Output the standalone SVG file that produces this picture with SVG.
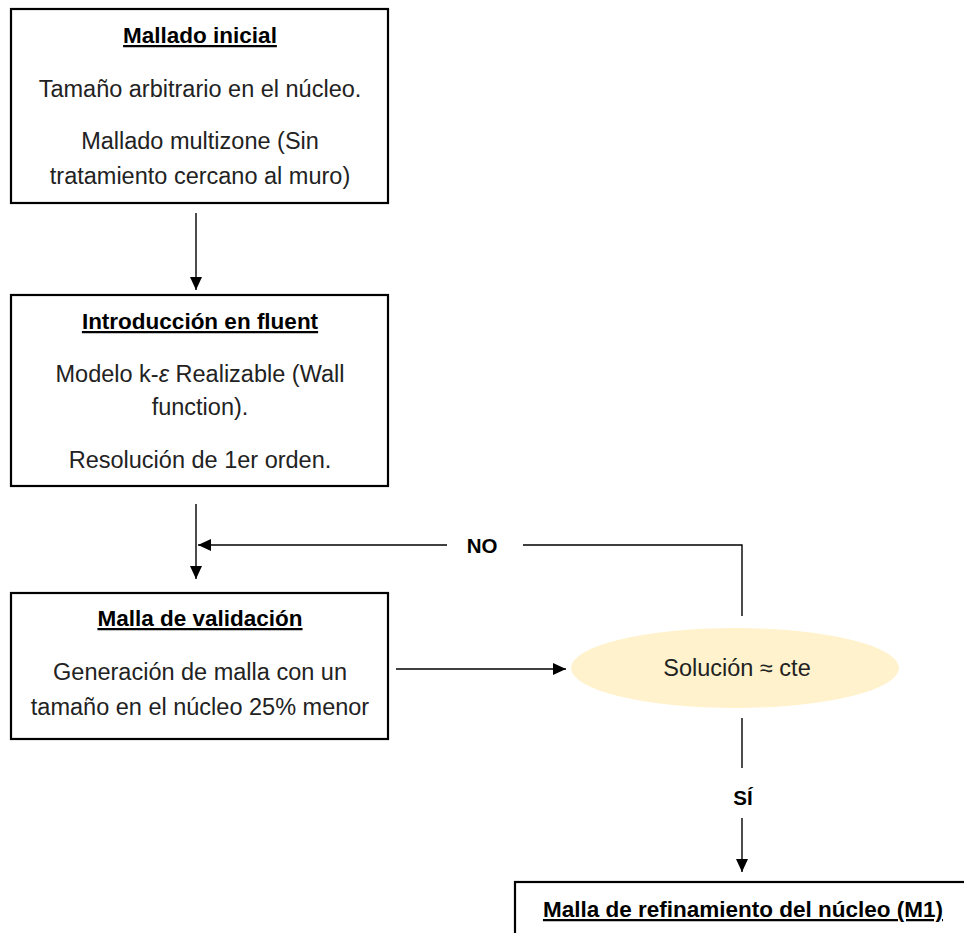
<svg xmlns="http://www.w3.org/2000/svg" width="964" height="933" viewBox="0 0 964 933">
<defs>
<style>
.box{fill:#fff;stroke:#000;stroke-width:2.2}
.t{font-family:"Liberation Sans",Arial,sans-serif;font-size:23.5px;fill:#222;text-anchor:middle}
.h{font-family:"Liberation Sans",Arial,sans-serif;font-size:22.5px;font-weight:bold;fill:#000;text-anchor:middle;text-decoration:underline}
.lbl{font-family:"Liberation Sans",Arial,sans-serif;font-size:20.5px;font-weight:bold;fill:#000;text-anchor:middle}
.ln{fill:none;stroke:#000;stroke-width:1.4}
</style>
<marker id="ah" viewBox="0 0 13 12" refX="13" refY="6" markerWidth="13" markerHeight="12" markerUnits="userSpaceOnUse" orient="auto"><path d="M0,0 L13,6 L0,12 Z" fill="#000"/></marker>
</defs>
<rect width="964" height="933" fill="#fff"/>
<g id="connectors">
<line class="ln" x1="196" y1="213" x2="196" y2="290" marker-end="url(#ah)"/>
<line class="ln" x1="196" y1="504" x2="196" y2="579" marker-end="url(#ah)"/>
<polyline class="ln" points="742,616 742,545 523,545"/>
<line class="ln" x1="447" y1="545" x2="198" y2="545" marker-end="url(#ah)"/>
<text class="lbl" x="482" y="553">NO</text>
<line class="ln" x1="396" y1="669" x2="566" y2="669" marker-end="url(#ah)"/>
<line class="ln" x1="742" y1="718" x2="742" y2="768"/>
<text class="lbl" x="743" y="805">SÍ</text>
<line class="ln" x1="742" y1="818" x2="742" y2="872" marker-end="url(#ah)"/>
</g>
<g id="n1">
<rect class="box" x="11" y="9" width="377" height="194"/>
<text class="h" x="200" y="43">Mallado inicial</text>
<text class="t" x="200" y="97">Tamaño arbitrario en el núcleo.</text>
<text class="t" x="200" y="149">Mallado multizone (Sin</text>
<text class="t" x="200" y="184">tratamiento cercano al muro)</text>
</g>
<g id="n2">
<rect class="box" x="11" y="295" width="377" height="191"/>
<text class="h" x="200" y="329">Introducción en fluent</text>
<text class="t" x="200" y="382">Modelo k-<tspan font-style="italic">ε</tspan> Realizable (Wall</text>
<text class="t" x="200" y="415">function).</text>
<text class="t" x="200" y="468">Resolución de 1er orden.</text>
</g>
<g id="n3">
<rect class="box" x="11" y="593" width="377" height="146"/>
<text class="h" x="200" y="626">Malla de validación</text>
<text class="t" x="200" y="680">Generación de malla con un</text>
<text class="t" x="200" y="715">tamaño en el núcleo 25% menor</text>
</g>
<g id="n4">
<ellipse cx="735" cy="668" rx="164" ry="40" fill="#FFF2CC"/>
<text class="t" x="737" y="676">Solución ≈ cte</text>
</g>
<g id="n5">
<rect class="box" x="515" y="882" width="480" height="100"/>
<text class="h" x="743" y="917">Malla de refinamiento del núcleo (M1)</text>
</g>
</svg>
